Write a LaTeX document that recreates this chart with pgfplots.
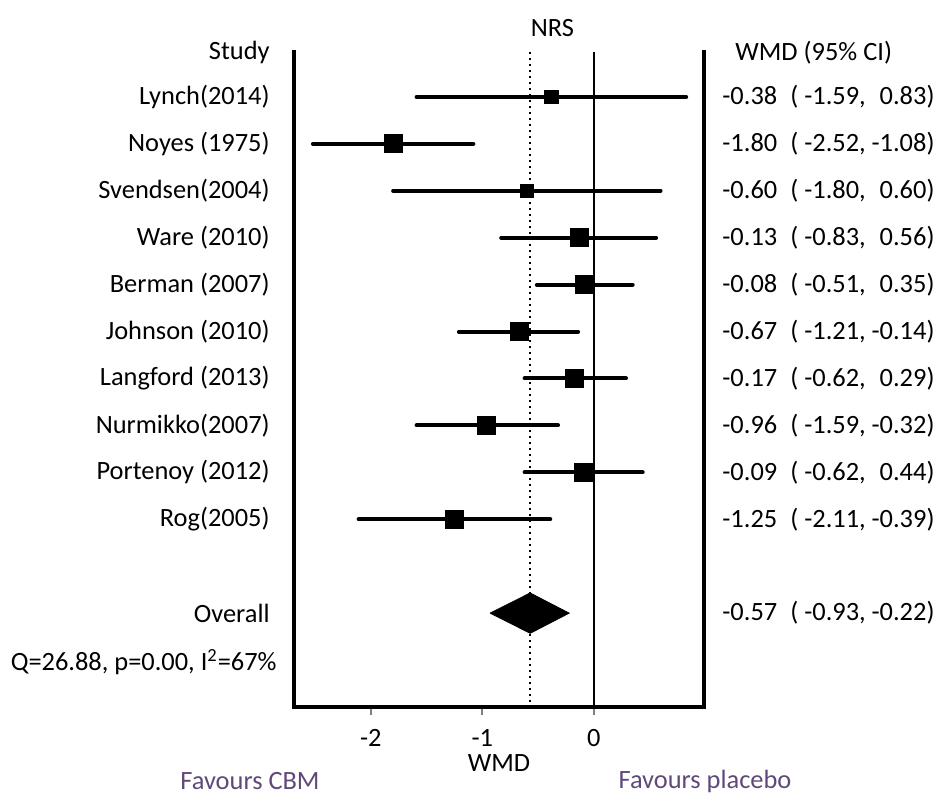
\documentclass[border=0pt]{standalone}
\usepackage{fontspec}
\setmainfont{Carlito}
\usepackage{pgfplots}
\usepackage{pgfplotstable}
\pgfplotsset{compat=1.18}
\definecolor{favpurple}{RGB}{96,73,122}

\pgfplotstableread{
x y em ep ms
-0.38 -1 1.21 1.21 3.3
-1.80 -2 0.72 0.72 4.5
-0.60 -3 1.20 1.20 3.4
-0.13 -4 0.70 0.69 4.5
-0.08 -5 0.43 0.43 4.5
-0.67 -6 0.54 0.53 4.5
-0.17 -7 0.45 0.46 4.5
-0.96 -8 0.63 0.64 4.5
-0.09 -9 0.53 0.53 4.5
-1.25 -10 0.86 0.86 4.5
}\studies

\newcommand{\mainsize}{\fontsize{13.2pt}{15pt}\selectfont}
\begin{document}
\mainsize
\begin{tikzpicture}
\useasboundingbox (-147pt,-44pt) rectangle (321.5pt,353.5pt);
\begin{axis}[
  at={(0,0)}, anchor=south west,
  scale only axis,
  width=205pt, height=328.5pt,
  xmin=-2.69, xmax=0.99,
  ymin=-14, ymax=0,
  clip=false,
  axis line style={draw=none},
  ytick=\empty,
  xtick={-2,-1,0},
  xticklabels={{-2},{-1},{0}},
  xtick pos=bottom,
  tick align=outside,
  major tick length=4pt,
  every tick/.style={gray, line width=1.2pt},
  xticklabel style={font=\mainsize, yshift=-2.5pt},
  xlabel={WMD},
  xlabel style={font=\mainsize, yshift=5pt},
  every node/.append style={font=\mainsize},
]
% axis frame (left, bottom, right)
\draw[line width=2pt] (rel axis cs:0,1) -- (rel axis cs:0,0) -- (rel axis cs:1,0) -- (rel axis cs:1,1);
% reference lines
\addplot[black, line width=1pt, forget plot] coordinates {(0,-0.05) (0,-14)};
\addplot[black, dotted, line width=1pt, forget plot] coordinates {(-0.57,-0.05) (-0.57,-14)};
% confidence intervals
\addplot[draw=none, mark=none, forget plot,
  error bars/.cd, x dir=both, x explicit, error mark=none,
  error bar style={draw=black, line width=2pt, line cap=round}]
  table[x=x, y=y, x error minus=em, x error plus=ep] {\studies};
% point estimates
\addplot[scatter, only marks, mark=square*,
  scatter/use mapped color={draw=black, fill=black},
  visualization depends on={\thisrow{ms} \as \msize},
  scatter/@pre marker code/.append style={/tikz/mark size=\msize pt}]
  table[x=x, y=y] {\studies};
% overall diamond
\addplot[fill=black, draw=black, forget plot] coordinates
  {(-0.93,-12) (-0.57,-11.57) (-0.22,-12) (-0.57,-12.43) (-0.93,-12)};
% texts
\node[inner sep=0pt] at (axis cs:-0.37,0.47) {NRS};
\node[anchor=east, inner sep=0pt, xshift=-12pt] at (axis cs:-2.69,-0.05) {Study};
\node[anchor=west, inner sep=0pt, xshift=15.5pt] at (axis cs:0.99,-0.05) {WMD (95\% CI)};
\node[anchor=east, inner sep=0pt, xshift=-12pt] at (axis cs:-2.69,-1) {Lynch(2014)};
\node[anchor=east, inner sep=0pt, xshift=-12pt] at (axis cs:-2.69,-2) {Noyes (1975)};
\node[anchor=east, inner sep=0pt, xshift=-12pt] at (axis cs:-2.69,-3) {Svendsen(2004)};
\node[anchor=east, inner sep=0pt, xshift=-12pt] at (axis cs:-2.69,-4) {Ware (2010)};
\node[anchor=east, inner sep=0pt, xshift=-12pt] at (axis cs:-2.69,-5) {Berman (2007)};
\node[anchor=east, inner sep=0pt, xshift=-12pt] at (axis cs:-2.69,-6) {Johnson (2010)};
\node[anchor=east, inner sep=0pt, xshift=-12pt] at (axis cs:-2.69,-7) {Langford (2013)};
\node[anchor=east, inner sep=0pt, xshift=-12pt] at (axis cs:-2.69,-8) {Nurmikko(2007)};
\node[anchor=east, inner sep=0pt, xshift=-12pt] at (axis cs:-2.69,-9) {Portenoy (2012)};
\node[anchor=east, inner sep=0pt, xshift=-12pt] at (axis cs:-2.69,-10) {Rog(2005)};
\node[anchor=east, inner sep=0pt, xshift=-12pt] at (axis cs:-2.69,-12) {Overall};
\node[anchor=east, inner sep=0pt, xshift=-8.5pt] at (axis cs:-2.69,-13.05) {Q=26.88, p=0.00, I\textsuperscript{2}=67\%};
\newcommand{\ci}[3]{#1\hspace{0.5em}(\makebox[2.3em][r]{#2},\makebox[2.3em][r]{#3})}
\node[anchor=west, inner sep=0pt, xshift=9pt] at (axis cs:0.99,-1) {\ci{-0.38}{-1.59}{0.83}};
\node[anchor=west, inner sep=0pt, xshift=9pt] at (axis cs:0.99,-2) {\ci{-1.80}{-2.52}{-1.08}};
\node[anchor=west, inner sep=0pt, xshift=9pt] at (axis cs:0.99,-3) {\ci{-0.60}{-1.80}{0.60}};
\node[anchor=west, inner sep=0pt, xshift=9pt] at (axis cs:0.99,-4) {\ci{-0.13}{-0.83}{0.56}};
\node[anchor=west, inner sep=0pt, xshift=9pt] at (axis cs:0.99,-5) {\ci{-0.08}{-0.51}{0.35}};
\node[anchor=west, inner sep=0pt, xshift=9pt] at (axis cs:0.99,-6) {\ci{-0.67}{-1.21}{-0.14}};
\node[anchor=west, inner sep=0pt, xshift=9pt] at (axis cs:0.99,-7) {\ci{-0.17}{-0.62}{0.29}};
\node[anchor=west, inner sep=0pt, xshift=9pt] at (axis cs:0.99,-8) {\ci{-0.96}{-1.59}{-0.32}};
\node[anchor=west, inner sep=0pt, xshift=9pt] at (axis cs:0.99,-9) {\ci{-0.09}{-0.62}{0.44}};
\node[anchor=west, inner sep=0pt, xshift=9pt] at (axis cs:0.99,-10) {\ci{-1.25}{-2.11}{-0.39}};
\node[anchor=west, inner sep=0pt, xshift=9pt] at (axis cs:0.99,-12) {\ci{-0.57}{-0.93}{-0.22}};
\end{axis}
\node[text=favpurple, inner sep=0pt] at (-22pt,-37pt) {Favours CBM};
\node[text=favpurple, inner sep=0pt] at (205.5pt,-37pt) {Favours placebo};
\end{tikzpicture}
\end{document}
